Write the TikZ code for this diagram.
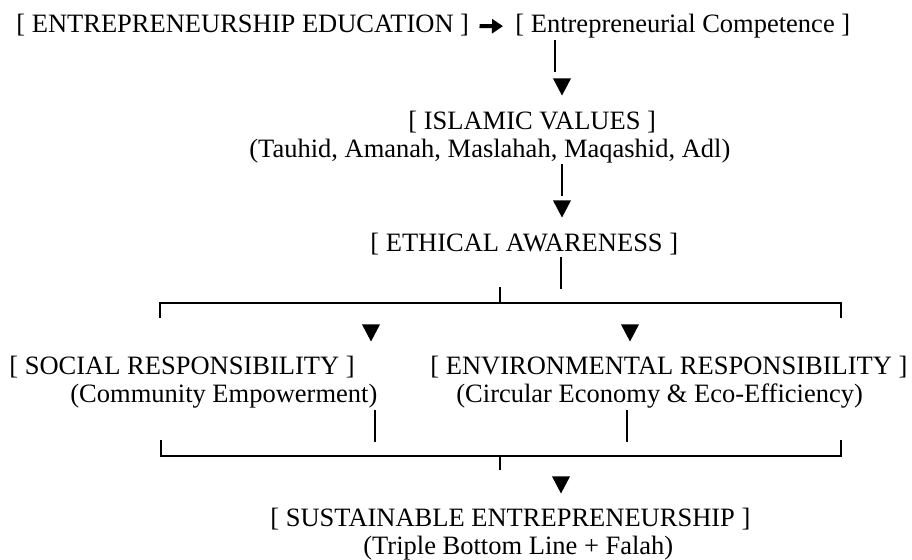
\documentclass[tikz,border=0pt]{standalone}
\usepackage{fontspec}
\setmainfont{Liberation Serif}
\usetikzlibrary{arrows.meta,positioning}

\tikzset{
  txt/.style = {anchor=base west, inner sep=0pt, font=\fontsize{13.25}{15}\selectfont},
  stem/.style = {line width=1.3pt},
  rail/.style = {line width=1pt},
  heavy/.style = {line width=2pt, -{Triangle[length=5.5pt,width=7pt]}},
  tip/.pic = {\fill (-9,-8.5) -- (9,-8.5) -- (0,8.5) -- cycle;}
}

\begin{document}
\begin{tikzpicture}[x=0.5pt, y=-0.5pt]
  \useasboundingbox (0,0) rectangle (912,560);

  % text lines
  \node[txt] (edu) at (16,33) {[ ENTREPRENEURSHIP EDUCATION ]};
  \node[txt] (comp) at (515,33) {[ Entrepreneurial Competence ]};
  \node[txt] (islam) at (408,130) {[ ISLAMIC VALUES ]};
  \node[txt] (islam_sub) at (249,158) {(Tauhid, Amanah, Maslahah, Maqashid, Adl)};
  \node[txt] (ethic) at (370,252) {[ ETHICAL AWARENESS ]};
  \node[txt] (social) at (9,375) {[ SOCIAL RESPONSIBILITY ]};
  \node[txt] (social_sub) at (70,403) {(Community Empowerment)};
  \node[txt] (env) at (430,375) {[ ENVIRONMENTAL RESPONSIBILITY ]};
  \node[txt] (env_sub) at (456,403) {(Circular Economy \& Eco-Efficiency)};
  \node[txt] (sust) at (270,527) {[ SUSTAINABLE ENTREPRENEURSHIP ]};
  \node[txt] (sust_sub) at (363,555) {(Triple Bottom Line + Falah)};

  \draw[heavy, shorten <=5pt, shorten >=6pt] (edu) -- (comp);

  % vertical bars
  \foreach \n/\x/\a/\b in {s1/555/40/72, s2/562/164/196, s3/561/257/289,
                           s4/375/410/442, s5/627/410/442}{
    \coordinate (\n a) at (\x,\a);
    \coordinate (\n b) at (\x,\b);
    \draw[stem] (\n a) -- (\n b);
  }

  % brackets
  \coordinate (split) at (500,303);
  \coordinate (join) at (500,456);
  \draw[rail] (160,318) |- (split) -| (841,318);
  \draw[stem] (split) -- ++(0,-16);
  \draw[rail] (161,440) |- (join) -| (841,440);
  \draw[stem] (join) -- ++(0,14);

  % arrow heads
  \foreach \x/\y in {562/87, 562/209, 371/333, 630/333, 561/485}
    \pic at (\x,\y) {tip};
\end{tikzpicture}
\end{document}
